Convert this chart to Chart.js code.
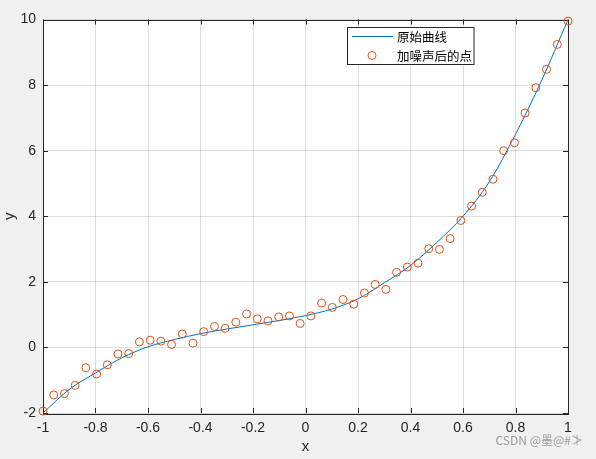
<!DOCTYPE html>
<html lang="zh">
<head>
  <meta charset="UTF-8">
  <title>原始曲线与加噪声后的点</title>
  <script src="https://cdn.jsdelivr.net/npm/chart.js"></script>
  <style>
    body {
      margin: 0;
      padding: 0;
      background-color: #f0f0f0;
    }
    canvas {
      display: block;
    }
  </style>
</head>
<body>
  <canvas id="plot" width="596" height="459"></canvas>

  <script>
    // 原始曲线
    const curveX = [-1, -0.9, -0.8, -0.7, -0.6, -0.5, -0.4, -0.3, -0.2, -0.1, 0,
                    0.1, 0.2, 0.3, 0.4, 0.5, 0.6, 0.7, 0.8, 0.9, 1];
    const curveY = [-2.0, -1.28, -0.78, -0.32, 0.02, 0.24, 0.42, 0.56, 0.69, 0.82, 0.97,
                    1.17, 1.48, 1.97, 2.5, 3.2, 4.0, 5.05, 6.5, 8.15, 10.0];

    // 加噪声后的点
    const noisyX = [-1, -0.9592, -0.9184, -0.8776, -0.8367, -0.7959, -0.7551, -0.7143, -0.6735, -0.6327,
                    -0.5918, -0.5510, -0.5102, -0.4694, -0.4286, -0.3878, -0.3469, -0.3061, -0.2653, -0.2245,
                    -0.1837, -0.1429, -0.1020, -0.0612, -0.0204, 0.0204, 0.0612, 0.1020, 0.1429, 0.1837,
                    0.2245, 0.2653, 0.3061, 0.3469, 0.3878, 0.4286, 0.4694, 0.5102, 0.5510, 0.5918,
                    0.6327, 0.6735, 0.7143, 0.7551, 0.7959, 0.8367, 0.8776, 0.9184, 0.9592, 1];
    const noisyY = [-1.94, -1.45, -1.41, -1.16, -0.62, -0.81, -0.53, -0.20, -0.19, 0.17,
                    0.22, 0.19, 0.09, 0.41, 0.13, 0.48, 0.64, 0.58, 0.77, 1.02,
                    0.87, 0.81, 0.93, 0.96, 0.73, 0.96, 1.35, 1.22, 1.46, 1.32,
                    1.66, 1.92, 1.77, 2.29, 2.45, 2.57, 3.01, 2.99, 3.32, 3.87,
                    4.31, 4.73, 5.13, 6.00, 6.24, 7.15, 7.92, 8.48, 9.24, 9.95];

    const xTicks = [-1, -0.8, -0.6, -0.4, -0.2, 0, 0.2, 0.4, 0.6, 0.8, 1];
    const yTicks = [-2, 0, 2, 4, 6, 8, 10];
    const seriesNames = ['原始曲线', '加噪声后的点'];

    const axisColor = '#262626';
    const gridColor = 'rgba(38,38,38,0.15)';
    const tickFont = { family: "'Liberation Sans', Arial, sans-serif", size: 14 };

    // matlab-like box, inward ticks, white axes background, legend and watermark
    const matlabAxes = {
      id: 'matlabAxes',
      beforeDraw(chart) {
        const { ctx, chartArea: a } = chart;
        ctx.save();
        ctx.fillStyle = '#f0f0f0';
        ctx.fillRect(0, 0, chart.width, chart.height);
        ctx.fillStyle = '#ffffff';
        ctx.fillRect(a.left, a.top, a.right - a.left, a.bottom - a.top);
        ctx.restore();
      },
      beforeDatasetsDraw(chart) {
        const { ctx, chartArea: a, scales } = chart;
        const len = 5;
        ctx.save();
        ctx.strokeStyle = axisColor;
        ctx.lineWidth = 1;
        ctx.beginPath();
        scales.x.ticks.forEach(t => {
          const px = Math.round(scales.x.getPixelForValue(t.value)) + 0.5;
          ctx.moveTo(px, a.bottom); ctx.lineTo(px, a.bottom - len);
          ctx.moveTo(px, a.top); ctx.lineTo(px, a.top + len);
        });
        scales.y.ticks.forEach(t => {
          const py = Math.round(scales.y.getPixelForValue(t.value)) + 0.5;
          ctx.moveTo(a.left, py); ctx.lineTo(a.left + len, py);
          ctx.moveTo(a.right, py); ctx.lineTo(a.right - len, py);
        });
        ctx.stroke();
        ctx.strokeRect(Math.round(a.left) + 0.5, Math.round(a.top) + 0.5,
                       Math.round(a.right - a.left), Math.round(a.bottom - a.top));
        ctx.restore();
      },
      afterDraw(chart) {
        const { ctx } = chart;
        const ds = chart.data.datasets;
        ctx.save();
        // legend
        ctx.fillStyle = '#ffffff';
        ctx.fillRect(347.5, 27.5, 126.5, 37);
        ctx.strokeStyle = axisColor;
        ctx.lineWidth = 1;
        ctx.strokeRect(347.5, 27.5, 126.5, 37);

        ctx.strokeStyle = ds[0].borderColor;
        ctx.beginPath();
        ctx.moveTo(352, 36.5);
        ctx.lineTo(393, 36.5);
        ctx.stroke();

        ctx.strokeStyle = ds[1].borderColor;
        ctx.beginPath();
        ctx.arc(372, 55.5, 4, 0, Math.PI * 2);
        ctx.stroke();

        ctx.fillStyle = '#000000';
        ctx.font = "12.5px 'Noto Sans CJK SC', sans-serif";
        ctx.textBaseline = 'middle';
        ctx.textAlign = 'left';
        ctx.fillText(ds[0].label, 397, 37);
        ctx.fillText(ds[1].label, 397, 56);

        // watermark
        ctx.fillStyle = '#9a9a9a';
        ctx.font = "12px 'Noto Sans CJK SC', sans-serif";
        ctx.textAlign = 'right';
        ctx.fillText('CSDN @墨@#≯', 583, 440);
        ctx.restore();
      }
    };

    new Chart(document.getElementById('plot'), {
      type: 'scatter',
      data: {
        datasets: [
          {
            label: seriesNames[0],
            data: curveX.map((x, i) => ({ x: x, y: curveY[i] })),
            showLine: true,
            borderColor: '#0072BD',
            borderWidth: 1,
            pointRadius: 0,
            cubicInterpolationMode: 'monotone',
            order: 2
          },
          {
            label: seriesNames[1],
            data: noisyX.map((x, i) => ({ x: x, y: noisyY[i] })),
            showLine: false,
            borderColor: '#D95319',
            backgroundColor: 'rgba(0,0,0,0)',
            borderWidth: 1,
            pointRadius: 4,
            pointStyle: 'circle',
            clip: false,
            order: 1
          }
        ]
      },
      options: {
        responsive: false,
        animation: false,
        devicePixelRatio: 1,
        layout: {
          padding: { top: 19.5, right: 28, left: 0, bottom: 0 }
        },
        plugins: {
          legend: { display: false },
          tooltip: { enabled: false }
        },
        scales: {
          x: {
            type: 'linear',
            min: -1,
            max: 1,
            afterFit: scale => { scale.height = 46; },
            afterBuildTicks: scale => { scale.ticks = xTicks.map(v => ({ value: v })); },
            grid: { color: gridColor, drawTicks: false },
            border: { display: false },
            ticks: {
              autoSkip: false,
              maxRotation: 0,
              padding: 7,
              color: axisColor,
              font: tickFont,
              callback: v => String(Math.round(v * 10) / 10)
            },
            title: {
              display: true,
              text: 'x',
              color: axisColor,
              font: { family: tickFont.family, size: 15 },
              padding: { top: 0, bottom: 3 }
            }
          },
          y: {
            type: 'linear',
            min: -2,
            max: 10,
            afterFit: scale => { scale.width = 43; },
            afterBuildTicks: scale => { scale.ticks = yTicks.map(v => ({ value: v })); },
            grid: { color: gridColor, drawTicks: false },
            border: { display: false },
            ticks: {
              padding: 7,
              color: axisColor,
              font: tickFont,
              callback: v => String(v)
            },
            title: {
              display: true,
              text: 'y',
              color: axisColor,
              font: { family: tickFont.family, size: 15 },
              padding: { top: 1, bottom: 0 }
            }
          }
        }
      },
      plugins: [matlabAxes]
    });
  </script>
</body>
</html>
